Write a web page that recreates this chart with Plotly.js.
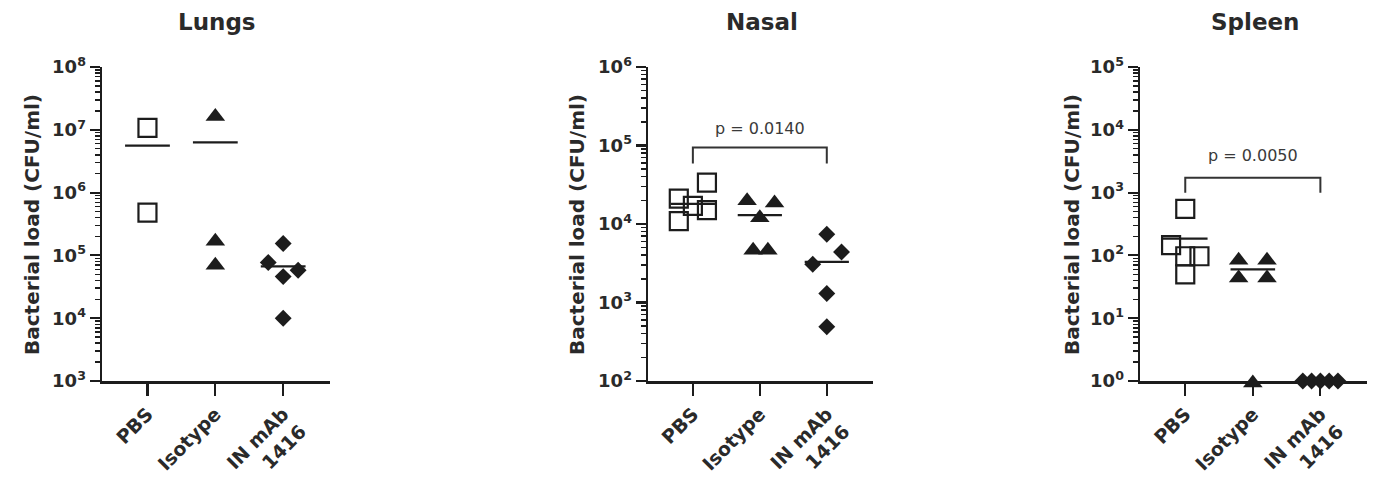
<!DOCTYPE html>
<html>
<head>
<meta charset="utf-8">
<script src="https://cdn.plot.ly/plotly-3.0.1.min.js"></script>
<style>html,body{margin:0;padding:0;background:#fff;}#chart{width:1377px;height:479px;}</style>
</head>
<body>
<div id="chart"></div>
<script>
// ---------- data ----------
const categories = ['PBS', 'Isotype', 'IN mAb<br>1416'];
const panelNames = ['Lungs', 'Nasal', 'Spleen'];

// Lungs (CFU/ml)
const lungsPBS     = [1.07e7, 4.8e5];
const lungsIsotype = [1.75e7, 1.8e5, 7.5e4];
const lungsMAb     = [1.55e5, 7.7e4, 4.6e4, 5.8e4, 1.0e4];
const lungsMeans   = [5.6e6, 6.3e6, 6.7e4];

// Nasal
const nasalPBS     = [2.1e4, 1.09e4, 1.7e4, 3.36e4, 1.5e4];
const nasalIsotype = [2.1e4, 1.97e4, 1.27e4, 4.9e3, 4.9e3];
const nasalMAb     = [7.4e3, 4.4e3, 3.07e3, 1.3e3, 4.9e2];
const nasalMeans   = [1.8e4, 1.3e4, 3.3e3];

// Spleen
const spleenPBS     = [550, 146, 97, 97, 50];
const spleenIsotype = [90, 90, 47, 47, 1];
const spleenMAb     = [1, 1, 1, 1, 1];
const spleenMeans   = [185, 60, 1];

// p values (PBS vs IN mAb 1416)
const pValues = [null, 'p = 0.0140', 'p = 0.0050'];

// y tick exponents per panel
const lungsExp  = [3, 4, 5, 6, 7, 8];
const nasalExp  = [2, 3, 4, 5, 6];
const spleenExp = [0, 1, 2, 3, 4, 5];

// ---------- layout helpers (positions / styles) ----------
const spread = {
  Lungs:  [[0, 0], [0, 0, 0], [0, -0.22, 0, 0.22, 0]],
  Nasal:  [[-0.21, -0.21, 0, 0.21, 0.21], [-0.19, 0.22, 0, -0.1, 0.12], [0, 0.22, -0.21, 0, 0]],
  Spleen: [[0, -0.21, 0, 0.21, 0], [-0.21, 0.21, -0.21, 0.21, 0], [-0.26, -0.13, 0, 0.13, 0.26]]
};
const bracketCfg = { // log10 positions of bracket top / drop ends / text
  Nasal:  {top: 4.974, drop: 4.77, text: 5.2},
  Spleen: {top: 3.237, drop: 2.997, text: 3.56}
};
const ink = '#1c1c1c';
const textInk = '#2a2a2a';
const FONT = 'DejaVu Sans, Liberation Sans, Arial, sans-serif';

const panels = [
  {name: 'Lungs',  groups: [lungsPBS, lungsIsotype, lungsMAb],    means: lungsMeans,  exps: lungsExp,  dom: [102, 330], titleX: 217, ylabX: 32},
  {name: 'Nasal',  groups: [nasalPBS, nasalIsotype, nasalMAb],    means: nasalMeans,  exps: nasalExp,  dom: [648, 873], titleX: 762, ylabX: 577},
  {name: 'Spleen', groups: [spleenPBS, spleenIsotype, spleenMAb], means: spleenMeans, exps: spleenExp, dom: [1140, 1367], titleX: 1255, ylabX: 1072}
];

const W = 1377, H = 479;
const plotTop = 67, plotBottom = 381;
const symbols = ['square-open', 'triangle-up', 'diamond'];
const sizes = [18, 17, 13];
const standoffs = [0, 2, 0]; // centre triangles on their bounding box

const traces = [];
const layout = {
  width: W, height: H,
  margin: {l: 0, r: 0, t: 0, b: 0},
  paper_bgcolor: '#fff', plot_bgcolor: '#fff',
  showlegend: false,
  font: {family: FONT, color: textInk},
  annotations: []
};

panels.forEach((p, i) => {
  const ax = i === 0 ? '' : String(i + 1);
  const xa = 'x' + ax, ya = 'y' + ax;
  p.groups.forEach((vals, g) => {
    // group mean line
    traces.push({
      type: 'scatter', mode: 'lines', xaxis: xa, yaxis: ya, cliponaxis: false,
      x: [g - 0.33, g + 0.33], y: [p.means[g], p.means[g]],
      line: {color: ink, width: 2.2}, hoverinfo: 'skip'
    });
    // individual animals
    traces.push({
      type: 'scatter', mode: 'markers', xaxis: xa, yaxis: ya, cliponaxis: false,
      x: vals.map((v, k) => g + spread[p.name][g][k]),
      y: vals,
      marker: {
        symbol: symbols[g], size: sizes[g], color: ink, standoff: standoffs[g],
        line: {width: g === 0 ? 2.2 : 0, color: ink}
      },
      hoverinfo: 'skip'
    });
  });
  // significance bracket
  if (pValues[i]) {
    const b = bracketCfg[p.name];
    traces.push({
      type: 'scatter', mode: 'lines', xaxis: xa, yaxis: ya, cliponaxis: false,
      x: [0, 0, 2, 2],
      y: [Math.pow(10, b.drop), Math.pow(10, b.top), Math.pow(10, b.top), Math.pow(10, b.drop)],
      line: {color: '#333', width: 2}, hoverinfo: 'skip'
    });
    traces.push({
      type: 'scatter', mode: 'text', xaxis: xa, yaxis: ya, cliponaxis: false,
      x: [1], y: [Math.pow(10, b.text)], text: [pValues[i]],
      textposition: 'middle center',
      textfont: {family: FONT, size: 16, color: '#3a3a3a'}, hoverinfo: 'skip'
    });
  }
  layout['xaxis' + ax] = {
    domain: [p.dom[0] / W, p.dom[1] / W],
    anchor: ya,
    range: [-0.67, 2.69],
    tickmode: 'array', tickvals: [0, 1, 2], ticktext: categories,
    tickangle: -45,
    ticks: 'outside', ticklen: 12, tickwidth: 2.2, tickcolor: ink,
    showline: true, linecolor: ink, linewidth: 2.5,
    showgrid: false, zeroline: false,
    layer: 'below traces',
    tickfont: {family: FONT, size: 19, color: textInk, weight: 700},
    fixedrange: true
  };
  layout['yaxis' + ax] = {
    domain: [(H - plotBottom) / H, (H - plotTop) / H],
    anchor: xa,
    type: 'log',
    range: [p.exps[0], p.exps[p.exps.length - 1]],
    tickmode: 'array',
    tickvals: p.exps.map(e => Math.pow(10, e)),
    ticktext: p.exps.map(e => '10<sup>' + e + '</sup>'),
    ticks: 'outside', ticklen: 10, tickwidth: 2.2, tickcolor: ink,
    minor: {dtick: 'D1', ticks: 'outside', ticklen: 5, tickwidth: 1.5, tickcolor: ink, showgrid: false},
    showline: true, linecolor: ink, linewidth: 2.5,
    showgrid: false, zeroline: false,
    layer: 'below traces',
    tickfont: {family: FONT, size: 18, color: textInk, weight: 700},
    fixedrange: true
  };
  // panel title
  layout.annotations.push({
    xref: 'paper', yref: 'paper', x: p.titleX / W, y: (H - 22) / H,
    xanchor: 'center', yanchor: 'middle', showarrow: false,
    text: p.name, font: {family: FONT, size: 23, color: textInk, weight: 700}
  });
  // y-axis title
  layout.annotations.push({
    xref: 'paper', yref: 'paper', x: p.ylabX / W, y: (H - 225) / H,
    xanchor: 'center', yanchor: 'middle', showarrow: false, textangle: -90,
    text: 'Bacterial load (CFU/ml)', font: {family: FONT, size: 20, color: textInk, weight: 700}
  });
});

Plotly.newPlot('chart', traces, layout, {staticPlot: true, displayModeBar: false});
</script>
</body>
</html>
